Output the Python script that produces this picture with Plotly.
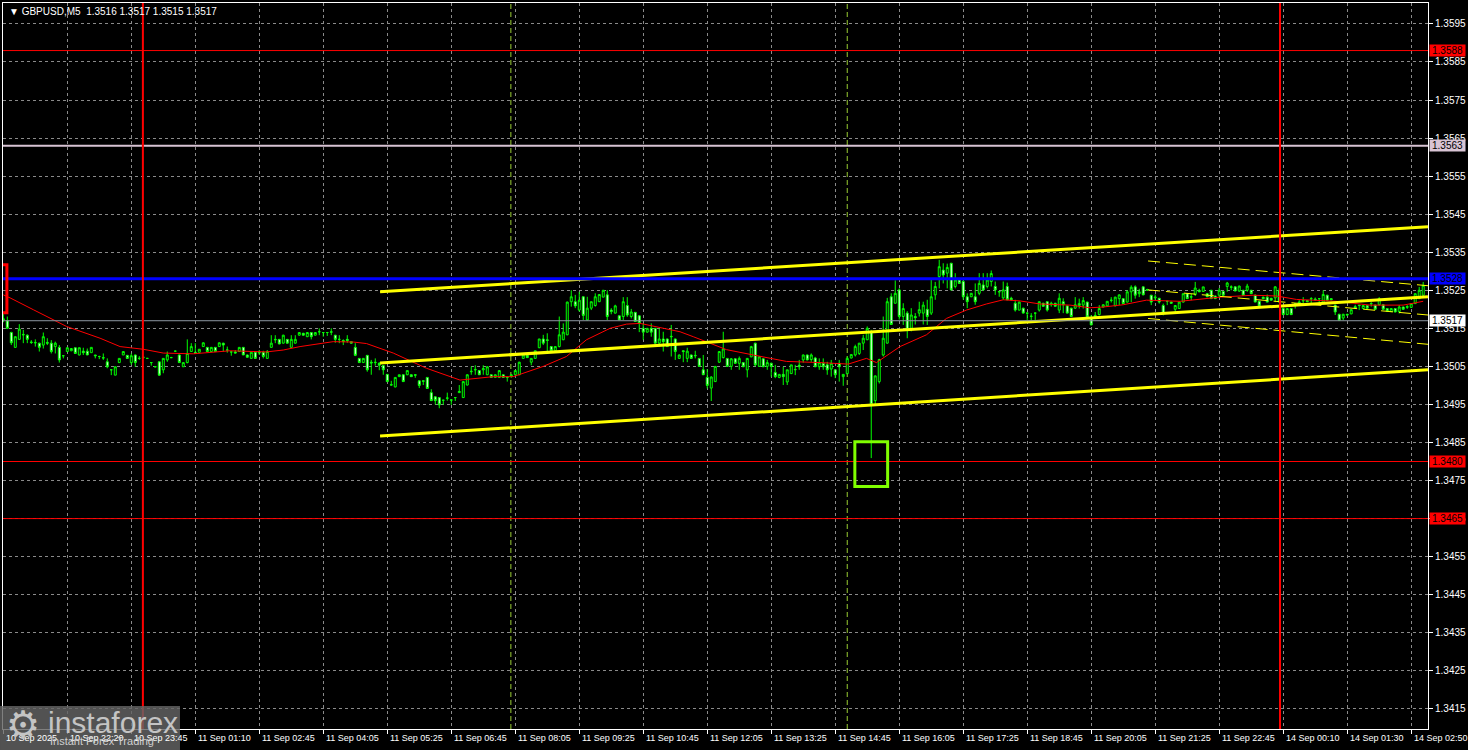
import plotly.graph_objects as go

# ---------------- data (prices in pips relative to 1.3500) ----------------
BASE = 1.3500

opens = [
    17.5, 17.0, 13.9, 10.0, 12.1, 13.4, 13.2, 11.4, 11.3, 11.1,
    10.6, 11.3, 11.1, 10.2, 10.0, 7.8, 8.9, 9.1, 9.9, 8.0,
    9.0, 9.0, 8.6, 8.0, 7.6, 7.3, 6.2, 4.1, 2.7, 6.0,
    8.0, 7.9, 6.0, 8.0, 7.1, 7.3, 7.1, 6.0, 4.9, 6.2,
    4.1, 6.7, 7.3, 9.0, 8.0, 4.9, 6.0, 8.9, 8.7, 8.7,
    10.2, 10.0, 8.9, 10.0, 10.2, 11.1, 9.3, 8.8, 8.8, 8.9,
    10.0, 8.0, 7.1, 8.7, 8.5, 8.7, 7.1, 10.0, 12.1, 12.1,
    11.1, 12.1, 10.0, 11.1, 13.2, 13.7, 12.8, 13.9, 13.2, 14.1,
    13.9, 13.9, 14.1, 13.2, 12.1, 11.8, 12.1, 11.5, 10.0, 7.1,
    6.0, 7.9, 6.1, 6.1, 5.8, 5.2, 2.9, 0.2, -0.4, 2.3,
    2.8, 2.8, 2.8, 2.8, 1.2, 1.2, 2.1, -1.9, -3.0, -3.2,
    -3.9, -3.4, -3.9, -3.2, -1.9, -3.2, 0.1, 3.6, 4.2, 3.9,
    4.1, 2.8, 2.8, 2.1, 2.1, 2.8, 2.2, 2.3, 2.8, 2.8,
    7.1, 7.9, 6.1, 7.1, 9.9, 12.2, 12.0, 10.2, 9.1, 10.2,
    12.0, 13.3, 22.0, 22.0, 19.8, 23.3, 17.2, 20.3, 21.0, 22.0,
    23.2, 23.8, 19.8, 19.0, 18.3, 18.1, 21.0, 18.1, 19.2, 18.3,
    15.0, 14.0, 15.0, 15.0, 11.1, 12.2, 12.2, 12.9, 12.2, 7.1,
    9.1, 7.1, 8.0, 7.9, 7.1, 4.1, 2.1, -0.7, 1.0, 6.1,
    7.3, 7.1, 5.0, 7.0, 5.8, 6.0, 4.1, 7.5, 11.1, 5.0,
    7.0, 5.0, 5.8, 3.4, 2.1, 2.9, 0.9, 3.1, 4.1, 5.3,
    6.7, 8.0, 6.8, 7.2, 4.9, 5.8, 5.4, 4.3, 4.1, 5.8,
    2.3, 3.1, 7.2, 8.0, 8.4, 11.1, 12.0, 14.1, -4.0, 1.0,
    8.0, 11.1, 23.3, 21.6, 25.1, 18.1, 19.0, 15.0, 18.1, 19.0,
    19.0, 20.0, 19.0, 23.8, 28.6, 30.3, 29.5, 32.1, 26.0, 27.7,
    27.3, 23.3, 23.3, 23.3, 24.2, 26.4, 26.0, 27.3, 26.0, 24.7,
    23.0, 26.0, 22.9, 21.6, 19.8, 20.3, 19.0, 18.1, 19.0, 19.8,
    21.6, 22.0, 21.2, 21.6, 19.8, 22.0, 20.9, 20.3, 20.3, 21.0,
    21.1, 21.9, 17.6, 18.4, 18.6, 20.6, 20.9, 22.3, 20.9, 22.8,
    22.8, 21.9, 24.6, 25.9, 24.1, 25.9, 25.0, 23.7, 23.0, 22.9,
    21.0, 22.1, 21.9, 20.0, 20.2, 21.9, 24.1, 23.2, 23.9, 25.0,
    24.7, 24.1, 25.0, 23.5, 23.7, 24.7, 26.0, 25.9, 25.9, 24.8,
    25.0, 25.0, 25.0, 23.7, 22.1, 23.2, 23.2, 22.9, 23.0, 25.0,
    20.2, 18.6, 20.2, 21.5, 21.5, 22.2, 22.3, 22.7, 22.7, 22.8,
    21.9, 23.7, 22.8, 21.1, 18.7, 17.7, 18.7, 18.8, 20.7, 21.1,
    20.2, 21.0, 21.4, 21.1, 21.2, 21.2, 20.2, 19.4, 20.2, 19.4,
    20.6, 20.5, 20.5, 21.5, 22.8, 23.7,
]

highs = [
    19.0, 18.1, 14.1, 12.9, 16.1, 14.6, 13.4, 11.9, 12.1, 11.2,
    13.9, 12.4, 11.9, 11.5, 10.6, 7.8, 9.9, 9.7, 10.0, 9.9,
    9.9, 9.7, 10.0, 8.0, 7.8, 8.4, 7.1, 4.2, 4.9, 7.1,
    8.9, 8.0, 8.4, 8.1, 7.7, 7.6, 7.2, 6.0, 5.0, 6.3,
    7.1, 8.9, 7.5, 9.1, 8.1, 6.0, 12.1, 11.1, 11.1, 9.5,
    11.3, 10.1, 10.1, 10.1, 11.3, 11.2, 10.2, 8.9, 9.3, 10.0,
    10.0, 8.1, 8.7, 8.7, 9.3, 9.1, 9.3, 13.2, 13.2, 12.2,
    13.3, 12.2, 13.2, 13.2, 13.9, 13.8, 13.9, 14.0, 13.9, 15.0,
    13.9, 13.9, 15.0, 13.2, 13.2, 12.1, 13.2, 11.6, 11.1, 7.2,
    7.1, 8.0, 6.7, 7.1, 6.1, 5.3, 3.0, 1.2, 2.1, 2.8,
    2.9, 3.9, 2.9, 2.8, 1.3, 1.2, 2.2, -1.0, -2.8, -3.1,
    -3.8, -1.9, -3.8, -3.1, 0.1, 1.1, 2.9, 5.0, 5.3, 4.0,
    5.3, 5.0, 2.9, 2.9, 4.0, 2.9, 2.2, 3.0, 4.0, 6.2,
    8.5, 8.4, 7.1, 9.1, 12.2, 13.3, 13.7, 10.3, 10.3, 18.1,
    16.3, 22.0, 25.0, 23.8, 24.6, 23.4, 23.3, 22.0, 24.2, 24.0,
    25.0, 25.0, 20.3, 21.2, 18.4, 23.2, 23.2, 20.1, 19.3, 18.4,
    16.3, 15.1, 16.3, 15.1, 15.0, 14.1, 12.3, 15.9, 12.3, 8.1,
    9.2, 9.9, 8.1, 9.1, 7.2, 8.0, 4.3, 2.4, 5.0, 9.0,
    14.1, 7.2, 7.2, 7.1, 7.6, 6.1, 7.2, 10.4, 11.2, 7.6,
    7.1, 6.7, 6.0, 5.4, 3.0, 4.9, 4.1, 5.4, 5.4, 6.7,
    8.1, 8.1, 8.4, 7.5, 7.1, 7.1, 6.2, 6.7, 4.2, 6.7,
    3.0, 7.6, 8.1, 10.7, 11.1, 13.3, 15.5, 14.6, 2.6, 7.0,
    18.1, 23.0, 24.2, 27.6, 25.5, 21.6, 19.5, 20.3, 19.0, 22.0,
    22.0, 22.5, 27.7, 27.2, 33.0, 32.1, 32.0, 32.2, 29.5, 28.2,
    28.0, 24.2, 24.3, 26.8, 29.5, 29.5, 29.5, 30.2, 27.3, 24.7,
    27.3, 27.0, 23.3, 22.5, 22.0, 20.4, 19.0, 19.0, 19.1, 22.0,
    21.7, 22.1, 22.0, 21.7, 24.2, 22.9, 21.0, 20.4, 23.2, 22.8,
    23.2, 22.0, 18.5, 19.3, 21.1, 21.3, 22.1, 23.2, 23.3, 23.9,
    22.9, 25.0, 26.3, 26.3, 25.4, 26.0, 25.4, 23.8, 23.9, 23.0,
    21.5, 22.1, 22.0, 21.1, 22.0, 24.1, 24.3, 24.1, 27.2, 25.4,
    25.9, 24.3, 25.1, 23.6, 25.6, 24.8, 27.2, 26.3, 26.1, 26.2,
    25.1, 26.7, 25.1, 23.9, 22.2, 23.3, 23.9, 23.0, 26.1, 25.6,
    20.5, 20.3, 20.3, 21.6, 22.4, 23.2, 22.4, 23.2, 23.1, 22.8,
    25.0, 23.8, 22.9, 21.2, 18.8, 18.8, 18.8, 20.0, 21.2, 21.1,
    21.1, 21.1, 21.9, 21.2, 23.2, 21.3, 20.3, 20.3, 20.3, 21.1,
    20.7, 21.1, 21.5, 24.2, 25.9, 27.2,
]

lows = [
    16.6, 14.8, 10.6, 9.9, 12.0, 11.1, 11.1, 10.9, 10.2, 8.9,
    9.7, 10.6, 8.4, 8.4, 6.0, 7.1, 8.9, 9.0, 8.4, 7.9,
    8.0, 8.0, 8.6, 7.1, 6.9, 6.7, 4.5, 2.7, 2.7, 6.0,
    8.0, 7.0, 5.4, 4.9, 6.7, 7.0, 7.0, 5.2, 4.8, 2.5,
    3.2, 6.2, 7.2, 8.9, 6.0, 4.9, 5.8, 8.9, 8.3, 8.7,
    10.1, 8.9, 8.8, 8.8, 10.2, 8.9, 8.6, 7.8, 8.4, 8.9,
    8.0, 7.3, 7.1, 7.1, 8.0, 7.1, 7.1, 10.0, 11.1, 10.8,
    11.0, 11.0, 10.0, 11.0, 13.1, 13.1, 12.7, 12.1, 13.1, 13.2,
    12.8, 13.0, 13.2, 11.2, 11.1, 10.6, 11.2, 11.0, 7.7, 6.0,
    6.0, 3.6, 2.8, 5.2, 4.0, 2.8, 1.0, 0.0, -0.5, 2.2,
    1.0, 2.7, 2.2, 2.0, -0.7, 0.1, -0.8, -4.1, -5.0, -6.0,
    -5.1, -4.0, -5.1, -4.1, -2.0, -3.3, 0.0, 2.8, 2.8, 2.8,
    2.8, 2.7, 2.0, 2.0, 2.0, 2.0, 1.0, 2.0, 2.7, 2.7,
    7.0, 7.2, 5.3, 7.0, 9.8, 10.6, 8.6, 8.9, 9.0, 10.0,
    11.9, 13.2, 20.7, 20.3, 19.4, 17.2, 17.1, 19.8, 20.7, 21.9,
    23.2, 17.2, 18.7, 18.9, 17.2, 17.2, 18.0, 17.6, 16.8, 14.0,
    12.0, 13.9, 12.8, 11.0, 10.2, 8.9, 10.2, 7.6, 6.7, 7.0,
    6.1, 6.1, 7.0, 7.1, 4.9, 2.8, -0.8, -4.1, 0.9, 5.9,
    7.1, 4.9, 4.1, 5.7, 4.1, 4.8, 2.1, 7.4, 5.0, 4.9,
    4.8, 4.1, 2.3, 1.9, 1.9, 0.1, 0.1, 3.0, 2.7, 4.1,
    6.0, 6.6, 6.2, 4.8, 4.1, 4.1, 2.8, 2.3, 1.9, 1.0,
    -0.1, 2.9, 7.1, 7.6, 8.0, 9.3, 11.9, -19.1, -5.0, 0.5,
    7.6, 11.0, 15.9, 21.5, 17.3, 15.9, 12.4, 14.2, 16.0, 18.1,
    16.0, 15.9, 18.5, 22.5, 25.5, 26.8, 25.5, 25.0, 25.5, 26.8,
    22.5, 20.3, 23.2, 21.2, 23.7, 24.8, 25.5, 26.0, 23.8, 23.3,
    22.5, 22.4, 22.3, 19.4, 19.7, 18.9, 17.2, 17.1, 17.2, 19.4,
    20.7, 19.4, 20.7, 20.7, 19.0, 19.0, 18.9, 18.0, 20.1, 20.2,
    20.2, 18.0, 15.8, 17.6, 18.4, 20.5, 20.8, 21.8, 20.8, 21.1,
    21.4, 21.8, 21.9, 22.8, 23.2, 23.7, 24.9, 21.1, 22.4, 21.5,
    18.4, 21.1, 21.4, 19.3, 20.1, 21.8, 22.7, 22.4, 23.5, 24.5,
    24.6, 23.2, 22.7, 22.7, 23.2, 23.6, 24.6, 25.0, 24.8, 24.6,
    23.6, 24.6, 24.0, 21.9, 20.8, 22.7, 21.9, 22.3, 21.9, 21.9,
    18.6, 18.5, 18.5, 20.2, 21.4, 21.5, 21.9, 21.5, 22.2, 21.5,
    21.8, 22.3, 22.4, 18.5, 17.0, 17.1, 18.4, 18.7, 20.1, 19.8,
    20.1, 20.2, 20.7, 19.9, 21.0, 20.0, 19.4, 19.3, 19.2, 18.9,
    19.9, 20.1, 20.4, 21.4, 22.7, 23.6,
]

closes = [
    17.3, 15.0, 11.2, 12.8, 14.8, 13.3, 12.1, 11.3, 11.2, 10.0,
    12.8, 11.1, 8.9, 11.1, 6.7, 7.8, 9.9, 9.7, 8.4, 9.9,
    8.6, 8.0, 10.0, 7.8, 7.6, 7.2, 4.9, 4.1, 4.9, 7.1,
    8.9, 7.1, 7.8, 6.0, 7.1, 7.4, 7.1, 6.0, 4.9, 2.7,
    7.1, 8.0, 7.3, 9.0, 6.0, 6.0, 8.4, 10.2, 8.4, 9.5,
    11.2, 8.9, 10.0, 8.9, 11.2, 10.6, 9.3, 8.8, 8.5, 10.0,
    8.0, 7.4, 8.7, 7.1, 8.7, 7.6, 8.9, 11.1, 12.0, 10.9,
    13.2, 11.1, 12.1, 12.1, 13.9, 13.2, 13.9, 12.8, 13.9, 14.1,
    13.9, 13.9, 14.0, 12.1, 12.1, 11.5, 11.8, 11.1, 7.9, 6.0,
    7.1, 4.1, 5.9, 6.0, 5.3, 4.1, 1.0, 0.1, 2.1, 2.8,
    1.0, 3.9, 2.3, 2.7, 0.0, 1.1, -0.8, -4.0, -4.0, -5.1,
    -3.9, -3.3, -3.8, -3.2, -1.6, 1.0, 2.8, 3.7, 4.1, 2.8,
    4.4, 4.9, 2.1, 2.8, 3.9, 2.1, 2.1, 2.8, 3.9, 6.1,
    8.0, 7.3, 7.1, 9.1, 12.2, 11.1, 11.8, 9.1, 10.2, 13.3,
    14.0, 21.9, 23.3, 20.9, 22.4, 18.4, 20.3, 22.0, 23.3, 23.9,
    25.0, 18.1, 19.4, 20.9, 17.2, 22.0, 18.5, 19.3, 16.8, 16.3,
    14.0, 15.0, 14.0, 11.1, 12.2, 11.5, 10.2, 12.8, 8.9, 8.0,
    8.9, 9.0, 7.1, 7.8, 5.0, 2.8, 0.0, 2.2, 5.0, 8.9,
    9.6, 5.0, 7.0, 5.8, 7.1, 4.9, 7.1, 10.2, 5.4, 7.5,
    4.9, 6.0, 5.0, 2.3, 2.9, 2.3, 4.1, 5.4, 4.2, 4.9,
    8.0, 6.7, 8.0, 4.9, 6.0, 4.9, 4.1, 5.8, 2.8, 4.9,
    2.9, 7.1, 8.1, 10.2, 11.1, 12.4, 15.0, -5.1, 2.5, 6.8,
    12.4, 22.0, 16.0, 24.2, 18.1, 20.2, 14.6, 18.5, 17.8, 19.9,
    21.1, 18.1, 23.3, 26.0, 31.2, 29.0, 31.0, 25.1, 27.7, 26.8,
    23.3, 22.0, 24.2, 22.0, 26.8, 25.1, 27.7, 29.4, 25.1, 24.6,
    25.1, 22.5, 22.5, 19.8, 21.9, 19.0, 19.0, 18.2, 19.0, 22.0,
    20.8, 19.8, 21.6, 20.8, 22.9, 21.2, 19.0, 18.1, 21.2, 21.5,
    22.3, 18.0, 15.9, 18.0, 20.2, 21.2, 22.1, 22.4, 23.2, 23.8,
    21.5, 24.6, 25.8, 23.7, 24.6, 23.8, 25.2, 21.9, 23.2, 21.9,
    18.9, 22.1, 21.6, 21.0, 21.9, 24.1, 22.8, 23.3, 25.6, 24.6,
    25.9, 23.3, 22.8, 22.8, 25.0, 23.7, 26.9, 25.8, 24.8, 26.1,
    23.7, 26.1, 24.1, 21.9, 20.9, 22.8, 21.9, 22.4, 25.9, 21.9,
    18.6, 20.2, 18.6, 21.5, 21.9, 22.3, 22.0, 22.8, 22.5, 22.8,
    23.9, 22.4, 22.5, 19.3, 17.1, 18.7, 18.5, 19.9, 20.3, 21.0,
    21.0, 20.3, 21.5, 20.0, 22.8, 20.0, 19.5, 20.2, 19.3, 20.6,
    20.0, 20.7, 21.5, 24.1, 25.0, 26.3,
]

# red moving average, read at selected bar positions (bar index, pips)
ma_bar = [0, 1.7, 7.5, 15.8, 24.2, 29.2, 35, 40, 47.5, 56.7, 65.8, 70, 74.2, 82.5,
          87.5, 90.8, 97.5, 105.8, 114.2, 122.5, 127.5, 135, 140.8, 145.8, 151.7,
          155.8, 159.2, 164.2, 169.2, 172.5, 176.7, 180.8, 187.5, 195.8, 204.2,
          211.25, 215.8, 218.3, 224.2, 230.8, 235.8, 240.8, 245.8, 250, 254.2,
          259.2, 266.7, 271.7, 275, 280, 285.8, 294.2, 304.2, 312.5, 318.3, 323.3,
          333.3, 341.7, 350, 355]
ma_pips = [23.8, 23.0, 19.9, 15.5, 12.4, 10.2, 9.5, 8.5, 8.3, 9.1, 8.8, 9.3, 10.2, 11.5,
           11.4, 11.0, 8.5, 4.5, 1.4, 2.3, 2.3, 5.0, 7.6, 12.0, 15.0,
           16.1, 16.3, 15.2, 14.1, 12.8, 11.1, 9.4, 8.0, 6.3, 6.0,
           5.6, 7.1, 6.0, 10.2, 13.3, 17.6, 19.8, 21.4, 22.5, 22.2,
           21.4, 21.1, 20.4, 20.6, 21.2, 22.4, 22.1, 23.2, 23.7, 23.5, 22.6,
           22.1, 21.1, 21.1, 22.1]

# x axis ticks (bar index) and labels
x_tick_bars = [0, 16, 32, 48, 64, 80, 96, 112, 128, 144, 160, 176, 192, 208, 224,
               240, 256, 272, 288, 304, 320, 336, 352]
x_tick_text = ["10 Sep 2025", "10 Sep 22:20", "10 Sep 23:45", "11 Sep 01:10",
               "11 Sep 02:45", "11 Sep 04:05", "11 Sep 05:25", "11 Sep 06:45",
               "11 Sep 08:05", "11 Sep 09:25", "11 Sep 10:45", "11 Sep 12:05",
               "11 Sep 13:25", "11 Sep 14:45", "11 Sep 16:05", "11 Sep 17:25",
               "11 Sep 18:45", "11 Sep 20:05", "11 Sep 21:25", "11 Sep 22:45",
               "14 Sep 00:10", "14 Sep 01:30", "14 Sep 02:50"]

y_ticks = [1.3415, 1.3425, 1.3435, 1.3445, 1.3455, 1.3465, 1.3475, 1.3485, 1.3495,
           1.3505, 1.3515, 1.3525, 1.3535, 1.3545, 1.3555, 1.3565, 1.3575, 1.3585,
           1.3595]

# horizontal levels: price, line colour, width, tag background
levels = [1.3588, 1.3563, 1.3528, 1.3517, 1.3480, 1.3465]
level_colors = ["#ff0000", "#d8c4d4", "#0000ff", "#8c96a0", "#ff0000", "#ff0000"]
level_widths = [1, 2, 3, 1, 1, 1]
tag_colors = ["#ff0000", "#d8c4d4", "#0000ff", "#ffffff", "#ff0000", "#ff0000"]

# vertical markers (bar positions)
red_vlines = [34.9, 319.2]
lime_vlines = [126.9, 211.0]

# trend channel (thick yellow)
chan_x = [94.2, 356.2]
chan_upper = [1.35246, 1.35417]
chan_mid = [1.35059, 1.35233]
chan_lower = [1.34867, 1.35041]

# thin regression channel
reg_x = [286.2, 356.2]
reg_upper = [1.35327, 1.35262]
reg_mid = [1.35251, 1.35185]
reg_lower = [1.35176, 1.35108]

# highlight box around the spike
box_bars = [212.9, 221.1]
box_prices = [1.34734, 1.34852]

# left range bracket
bracket_prices = [1.35191, 1.35317]

title_text = "▼ GBPUSD,M5\u00a0 1.3516 1.3517 1.3515 1.3517"

# ---------------- build ----------------
n = len(opens)
assert len(highs) == n and len(lows) == n and len(closes) == n, (len(opens), len(highs), len(lows), len(closes))


def px(v):
    return round(BASE + v / 10000.0, 5)


o = [px(v) for v in opens]
c = [px(v) for v in closes]
h = [max(px(v), oo, cc) for v, oo, cc in zip(highs, o, c)]
l = [min(px(v), oo, cc) for v, oo, cc in zip(lows, o, c)]
xb = list(range(n))

FONT = "Liberation Sans, Arial, sans-serif"
LIME = "#00ff00"

fig = go.Figure()

fig.add_trace(go.Candlestick(
    x=xb, open=o, high=h, low=l, close=c,
    increasing=dict(line=dict(color=LIME, width=1), fillcolor="#000000"),
    decreasing=dict(line=dict(color=LIME, width=1), fillcolor="#ffffff"),
    whiskerwidth=0, hoverinfo="skip", showlegend=False,
))

fig.add_trace(go.Scatter(
    x=ma_bar, y=[px(v) for v in ma_pips], mode="lines",
    line=dict(color="#ff0000", width=1), hoverinfo="skip", showlegend=False,
))

for ys in (chan_upper, chan_mid, chan_lower):
    fig.add_trace(go.Scatter(x=chan_x, y=ys, mode="lines",
                             line=dict(color="#ffff00", width=3),
                             hoverinfo="skip", showlegend=False))
for ys in (reg_upper, reg_mid, reg_lower):
    fig.add_trace(go.Scatter(x=reg_x, y=ys, mode="lines",
                             line=dict(color="#ffff00", width=1, dash="12px,6px"),
                             hoverinfo="skip", showlegend=False))

shapes = []
for p, col, w in zip(levels, level_colors, level_widths):
    shapes.append(dict(type="line", xref="paper", x0=0, x1=1, yref="y", y0=p, y1=p,
                       line=dict(color=col, width=w), layer="above"))
for xv in red_vlines:
    shapes.append(dict(type="line", xref="x", x0=xv, x1=xv, yref="paper", y0=0, y1=1,
                       line=dict(color="#ff0000", width=2), layer="above"))
for xv in lime_vlines:
    shapes.append(dict(type="line", xref="x", x0=xv, x1=xv, yref="paper", y0=0, y1=1,
                       line=dict(color="#9acd32", width=1, dash="5px,3px"), layer="below"))
shapes.append(dict(type="rect", xref="x", x0=box_bars[0], x1=box_bars[1], yref="y",
                   y0=box_prices[0], y1=box_prices[1],
                   line=dict(color="#80ff00", width=3), layer="above"))
shapes.append(dict(type="path", xref="x", yref="y",
                   path=f"M -0.1,{bracket_prices[1]} L 0.9,{bracket_prices[1]} "
                        f"L 0.9,{bracket_prices[0]} L -0.1,{bracket_prices[0]}",
                   line=dict(color="#ff0000", width=3), layer="above"))
# watermark box
shapes.append(dict(type="rect", xref="paper", yref="paper",
                   x0=-0.0021, x1=0.1242, y0=-0.0289, y1=0.0317,
                   fillcolor="rgba(100,100,100,0.82)", line=dict(width=0), layer="above"))

annotations = []
for kx, txt in zip(x_tick_bars, x_tick_text):
    annotations.append(dict(x=kx, xref="x", y=0, yref="paper", yanchor="top",
                            xanchor="left", xshift=1, yshift=-2, text=txt,
                            showarrow=False, font=dict(family=FONT, size=9, color="#ffffff")))
for p, bg in zip(levels, tag_colors):
    annotations.append(dict(x=1, xref="paper", xanchor="left", xshift=1, y=p, yref="y",
                            text=f"{p:.4f}", showarrow=False, bgcolor=bg, borderpad=0,
                            width=35, height=11, align="center",
                            font=dict(family=FONT, size=10, color="#000000")))
annotations.append(dict(x=0, xref="paper", xanchor="left", xshift=4, y=1, yref="paper",
                        yanchor="top", yshift=-1, text=title_text, showarrow=False,
                        font=dict(family=FONT, size=10, color="#ffffff")))
# watermark texts
annotations.append(dict(x=0.0141, xref="paper", xanchor="center", y=0.0055, yref="paper",
                        yanchor="middle", text="⚙", showarrow=False,
                        font=dict(family="DejaVu Sans", size=38, color="#c4c4c4")))
annotations.append(dict(x=0.0305, xref="paper", xanchor="left", y=0.0096, yref="paper",
                        yanchor="middle", text="instaforex", showarrow=False,
                        font=dict(family=FONT, size=30, color="#c4c4c4")))
annotations.append(dict(x=0.0316, xref="paper", xanchor="left", y=-0.0165, yref="paper",
                        yanchor="middle", text="Instant Forex Trading", showarrow=False,
                        font=dict(family=FONT, size=11, color="#d0d0d0")))

GRID = "#8a8a8a"
fig.update_layout(
    width=1468, height=750,
    margin=dict(l=3, r=40, t=3, b=21, pad=0, autoexpand=False),
    paper_bgcolor="#000000", plot_bgcolor="#000000",
    boxgap=0.3,
    showlegend=False,
    hovermode=False,
    shapes=shapes,
    annotations=annotations,
    xaxis=dict(
        range=[-0.075, 356.2], rangeslider=dict(visible=False),
        tickmode="array", tickvals=x_tick_bars, showticklabels=False,
        ticks="outside", ticklen=4, tickcolor="#ffffff",
        showgrid=True, gridcolor=GRID, griddash="3px,3px", gridwidth=1,
        showline=True, linecolor="#ffffff", linewidth=1, mirror=True,
        zeroline=False, fixedrange=True,
    ),
    yaxis=dict(
        range=[1.34097, 1.36005], side="right",
        tickmode="array", tickvals=y_ticks, tickformat=".4f",
        ticks="outside", ticklen=4, tickcolor="#ffffff",
        tickfont=dict(family=FONT, size=10, color="#ffffff"),
        showgrid=True, gridcolor=GRID, griddash="3px,3px", gridwidth=1,
        showline=True, linecolor="#ffffff", linewidth=1, mirror=True,
        zeroline=False, fixedrange=True,
    ),
)

fig.write_html(
    "out.html",
    config={"displayModeBar": False},
    post_script="document.body.style.margin='0';document.body.style.overflow='hidden';",
)
